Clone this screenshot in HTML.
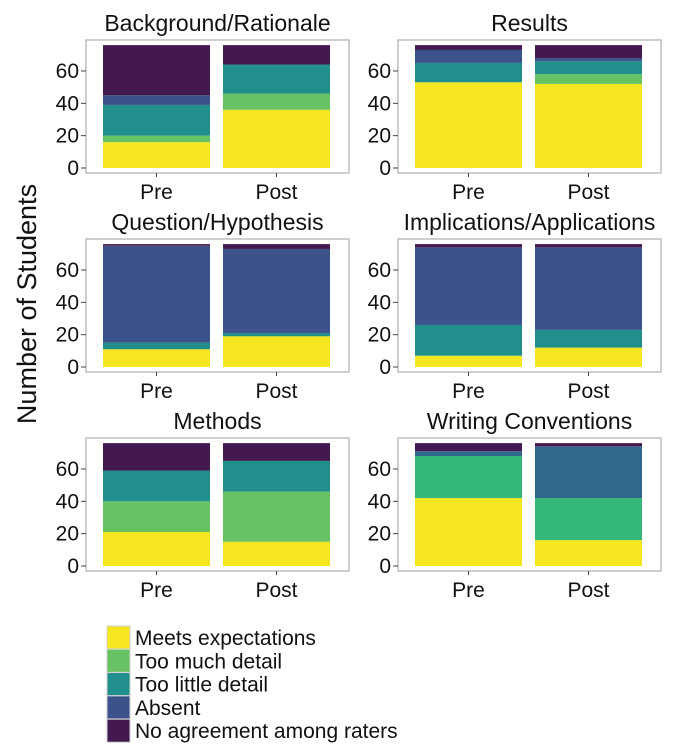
<!DOCTYPE html>
<html><head><meta charset="utf-8"><style>
html,body{margin:0;padding:0;background:#fff;}
svg{display:block;font-family:"Liberation Sans",Arial,sans-serif;}
</style></head><body>
<svg id="chart" width="673" height="756" viewBox="0 0 673 756" xmlns="http://www.w3.org/2000/svg">
<text transform="translate(36,304) rotate(-90)" text-anchor="middle" font-size="27" fill="#111">Number of Students</text>
<g id="panels"></g>
<g id="legend"></g>
</svg>
<script>
const panelTitles = ["Background/Rationale","Results","Question/Hypothesis","Implications/Applications","Methods","Writing Conventions"];
const groups = ["Pre","Post"];
const categories = ["Meets expectations","Too much detail","Too little detail","Absent","No agreement among raters"];
const yTicks = [0,20,40,60];
// segment counts per panel: [Pre, Post], each [meets, tooMuch, tooLittle, absent, noAgreement]
const bgValues = [[16,4,19,6,31],[36,10,18,0,12]];
const resultsValues = [[53,0,12,8,3],[52,6,8,2,8]];
const questionValues = [[11,0,4,60,1],[19,0,2,52,3]];
const implicationsValues = [[7,0,19,48,2],[12,0,11,51,2]];
const methodsValues = [[21,19,19,0,17],[15,31,19,0,11]];
const writingValues = [[42,26,0,3,5],[16,26,0,32,2]];
const allValues = [bgValues,resultsValues,questionValues,implicationsValues,methodsValues,writingValues];

const colors = ["#f6e620","#66c263","#21908c","#3b528b","#44194f"];
const wcColors = ["#f6e620","#35b779","#21908c","#31688e","#44194f"];
const NS="http://www.w3.org/2000/svg";
function mk(tag,attrs,parent){const e=document.createElementNS(NS,tag);for(const k in attrs)e.setAttribute(k,attrs[k]);parent.appendChild(e);return e;}
const panelsG=document.getElementById('panels');
const colX=[86,398], rowZero=[168,367,566], boxW=263, k=1.617;
allValues.forEach((vals,p)=>{
  const col=p%2,row=Math.floor(p/2);
  const x0=colX[col], z=rowZero[row];
  const yS=v=>z-v*k;
  const g=mk('g',{},panelsG);
  
  
  const t=mk('text',{x:x0+boxW/2,y:z-137,'text-anchor':'middle','font-size':'23',fill:'#111'},g);
  t.textContent=panelTitles[p];
  
  
  const box=mk('rect',{x:x0,y:z-128,width:boxW,height:133,fill:'#fff',stroke:'#b5b5b5','stroke-width':1.3},g);
  
  
  const bw=107;
  const bx=[x0+17,x0+137];
  const cols=p===5?wcColors:colors;
  vals.forEach((segs,gi)=>{
    let cum=0;
    segs.forEach((v,si)=>{
      if(v<=0)return;
      const r=mk('rect',{x:bx[gi],y:yS(cum+v),width:bw,height:v*k,fill:cols[si]},g);
      
      
      cum+=v;
    });
    const cx=bx[gi]+bw/2;
    mk('line',{x1:cx,x2:cx,y1:z+5,y2:z+9,stroke:'#444','stroke-width':1},g);
    const xl=mk('text',{x:cx,y:z+31,'text-anchor':'middle','font-size':'21',fill:'#111'},g);
    xl.textContent=groups[gi];
    
    
  });
  yTicks.forEach(tv=>{
    const y=yS(tv);
    mk('line',{x1:x0-5,x2:x0,y1:y,y2:y,stroke:'#444','stroke-width':1},g);
    const yl=mk('text',{x:x0-7,y:y+7,'text-anchor':'end','font-size':'21',fill:'#111'},g);
    yl.textContent=tv;
    
    
  });
});
const lg=document.getElementById('legend');
categories.forEach((c,i)=>{
  const y=626+i*23.3;
  const r=mk('rect',{x:107,y:y,width:23,height:23,fill:colors[i],stroke:'#d0d0d0','stroke-width':1},lg);
  
  
  const t=mk('text',{x:135,y:y+19,'font-size':'21',fill:'#111'},lg);
  t.textContent=c;
  
  
});
</script>
</body></html>
